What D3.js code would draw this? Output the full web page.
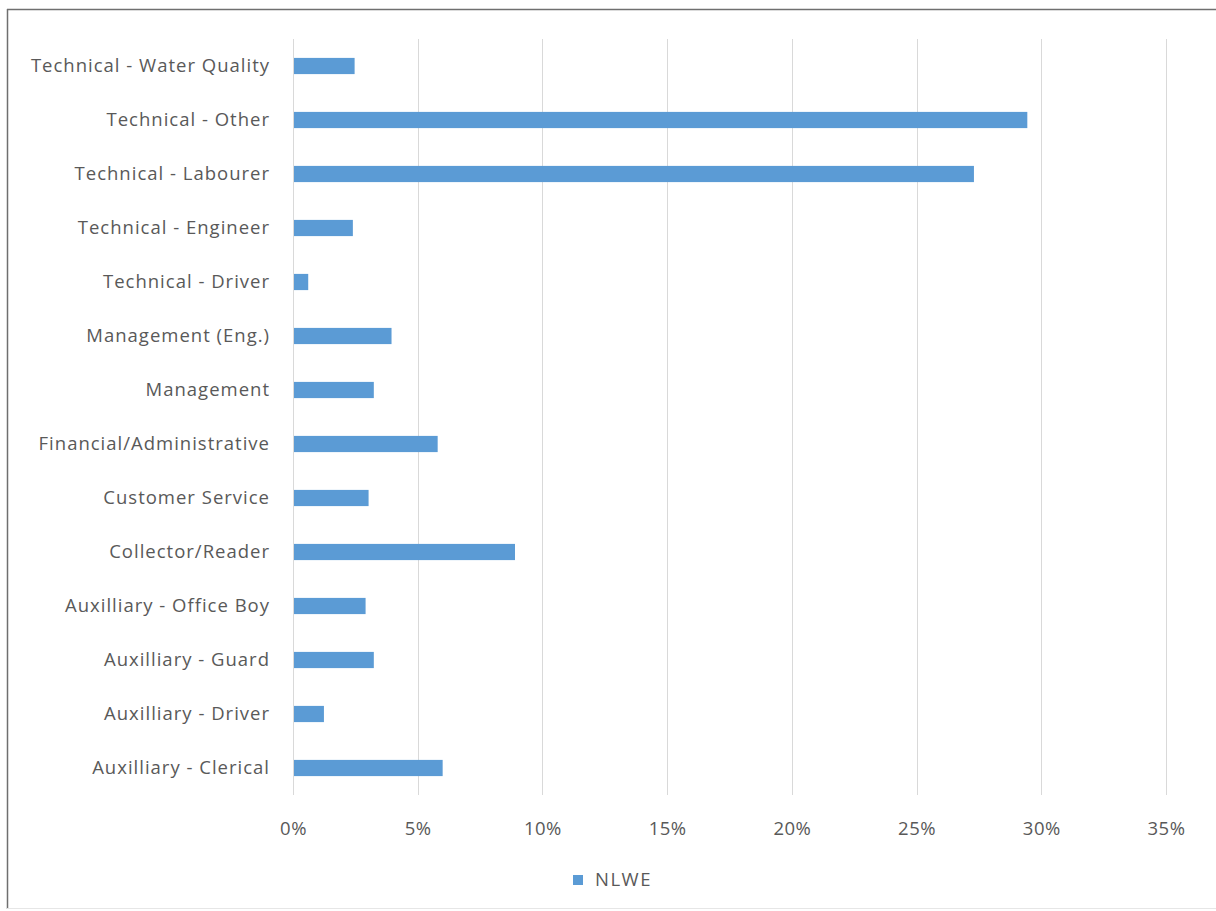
<!DOCTYPE html>
<html>
<head>
<meta charset="utf-8">
<script src="https://cdn.jsdelivr.net/npm/d3@7"></script>
<style>
  html, body { margin: 0; padding: 0; background: #fff; }
  svg { display: block; }
  text { font-family: "Open Sans", "Noto Sans", sans-serif; fill: #595959; }
</style>
</head>
<body>
<svg id="chart" width="1216" height="911"></svg>
<script>
// Share of staff by job category (NLWE)
const categories = [
  "Technical - Water Quality",
  "Technical - Other",
  "Technical - Labourer",
  "Technical - Engineer",
  "Technical - Driver",
  "Management (Eng.)",
  "Management",
  "Financial/Administrative",
  "Customer Service",
  "Collector/Reader",
  "Auxilliary - Office Boy",
  "Auxilliary - Guard",
  "Auxilliary - Driver",
  "Auxilliary - Clerical"
];
const nlwe = [2.47, 29.44, 27.3, 2.40, 0.61, 3.95, 3.24, 5.80, 3.03, 8.9, 2.91, 3.24, 1.24, 6.0];
const xTicks = [0, 5, 10, 15, 20, 25, 30, 35];
const seriesName = "NLWE";

const svg = d3.select("#chart");
const W = 1216, H = 911;
const plot = { left: 293, right: 1166, top: 39, bottom: 795 };
const barColor = "#5B9BD5";
const fontSize = 18.5;

// chart frame
svg.append("rect").attr("x", 0).attr("y", 0).attr("width", W).attr("height", H).attr("fill", "#fff");
svg.append("line").attr("x1", 7).attr("x2", W).attr("y1", 9.5).attr("y2", 9.5).attr("stroke", "#6f6f6f").attr("stroke-width", 1.5);
svg.append("line").attr("x1", 7.5).attr("x2", 7.5).attr("y1", 9).attr("y2", 909).attr("stroke", "#6f6f6f").attr("stroke-width", 1.5);
svg.append("line").attr("x1", 7).attr("x2", W).attr("y1", 908.5).attr("y2", 908.5).attr("stroke", "#e6e6e6");

const x = d3.scaleLinear().domain([0, 35]).range([plot.left, plot.right]);
const y = d3.scaleBand().domain(categories).range([plot.top, plot.bottom]).paddingInner(0.7).paddingOuter(0.35);

// vertical gridlines
svg.append("g")
  .selectAll("line")
  .data(xTicks)
  .join("line")
  .attr("x1", d => Math.round(x(d)) + 0.5)
  .attr("x2", d => Math.round(x(d)) + 0.5)
  .attr("y1", plot.top)
  .attr("y2", plot.bottom)
  .attr("stroke", "#d9d9d9")
  .attr("stroke-width", 1);

// bars
svg.append("g")
  .selectAll("rect")
  .data(categories)
  .join("rect")
  .attr("x", x(0) + 1)
  .attr("y", d => y(d))
  .attr("width", (d, i) => x(nlwe[i]) - x(0) - 1)
  .attr("height", y.bandwidth())
  .attr("fill", barColor);

// category labels
const labelG = svg.append("g").attr("transform", "translate(270,0)").call(d3.axisLeft(y).tickSize(0).tickPadding(0));
labelG.select(".domain").remove();
labelG.selectAll("text")
  .attr("font-size", fontSize)
  .attr("font-family", null)
  .attr("letter-spacing", "1px")
  .attr("fill", "#595959");

// x axis tick labels
const xAxis = d3.axisBottom(x).tickValues(xTicks).tickFormat(d => d + "%").tickSize(0).tickPadding(0);
const xg = svg.append("g").attr("transform", `translate(0,${plot.bottom + 34})`).call(xAxis);
xg.select(".domain").remove();
xg.selectAll("text").attr("font-size", fontSize).attr("font-family", null).attr("letter-spacing", "0.5px").attr("fill", "#595959").attr("dy", "0.32em");

// legend
const legend = svg.append("g").attr("transform", "translate(573,880)");
legend.append("rect").attr("x", 0).attr("y", -5).attr("width", 10).attr("height", 10).attr("fill", barColor);
legend.append("text").attr("x", 22).attr("y", 0).attr("dy", "0.35em").attr("font-size", fontSize).attr("letter-spacing", "1.5px").text(seriesName);
</script>
</body>
</html>
